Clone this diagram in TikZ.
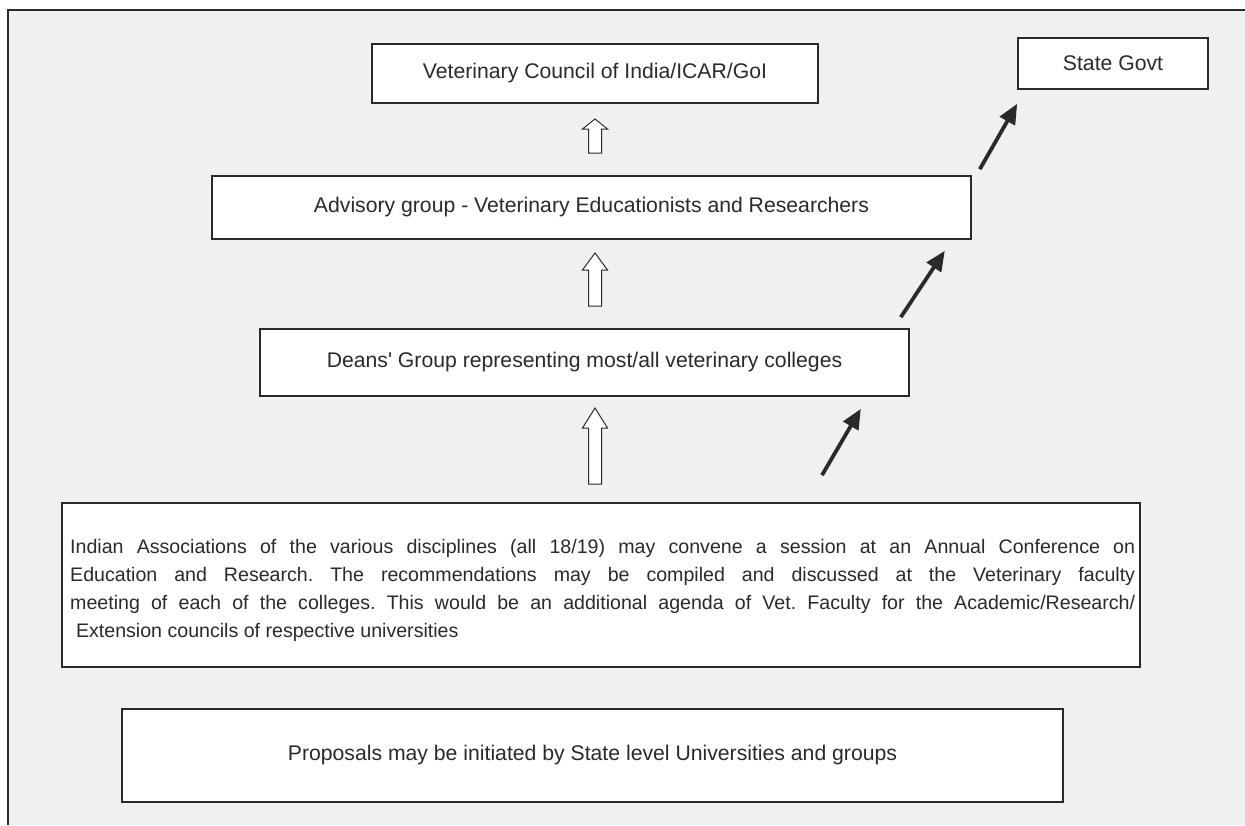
\documentclass[tikz,border=0pt]{standalone}
\usepackage{fontspec}
\setmainfont{Liberation Sans}
\usetikzlibrary{calc,arrows.meta}
\definecolor{bgray}{HTML}{EFF0F2}
\definecolor{ink}{HTML}{2A2A2A}
\newcommand\hollowup[4]{% x, tip y, head base y, bottom y
  \draw[hollowarrow] (#1,#2) -- (#1+12.5,#3) -- (#1+6.5,#3) -- (#1+6.5,#4) -- (#1-6.5,#4) -- (#1-6.5,#3) -- (#1-12.5,#3) -- cycle;}
\begin{document}
\begin{tikzpicture}[x=1pt,y=-1pt,
  box/.style={draw=ink,line width=1.6pt,fill=white,rectangle,inner sep=0pt,text=ink,font=\fontsize{21.2}{24}\selectfont},
  hollowarrow/.style={draw=ink,line width=1pt,fill=white,line join=miter},
  solidarrow/.style={draw=ink,line width=3.8pt,-{Triangle[length=20pt,width=17pt]}}]
\useasboundingbox (0,0) rectangle (1245,825);
\fill[white] (0,0) rectangle (1245,825);
\fill[bgray] (8,10) rectangle (1245,825);
\draw[ink,line width=2pt] (8,825) -- (8,10) -- (1245,10);
\node[box,minimum width=446pt,minimum height=59pt] (vci) at (595,73.5) {Veterinary Council of India/ICAR/GoI};
\node[box,minimum width=190pt,minimum height=51pt] (state) at (1113,63.5) {State Govt};
\node[box,minimum width=759pt,minimum height=63pt] (adv) at (591.5,207.5) {Advisory group - Veterinary Educationists and Researchers};
\node[box,minimum width=649pt,minimum height=67pt] (deans) at (584.5,362.5) {Deans\textquotesingle{} Group representing most/all veterinary colleges};
\node[box,minimum width=1078pt,minimum height=164pt] (ind) at (601,585) {};
\node[anchor=west,inner sep=0pt,text=ink,font=\fontsize{19.6}{28}\selectfont] (indtext) at (70,590)
  {\parbox{1065pt}{\frenchspacing Indian Associations of the various disciplines (all 18/19) may convene a session at an Annual Conference on\linebreak
  Education and Research. The recommendations may be compiled and discussed at the Veterinary faculty\linebreak
  meeting of each of the colleges. This would be an additional agenda of Vet. Faculty for the Academic/Research/\linebreak
  \hspace*{0.3em}Extension councils of respective universities}};
\node[box,minimum width=941pt,minimum height=93pt] (prop) at (592.5,755.5) {Proposals may be initiated by State level Universities and groups};
% hollow arrows
\hollowup{595}{119}{129}{153}
\hollowup{595}{253}{270}{306}
\hollowup{595}{408}{428}{484}
% solid arrows
\coordinate (a1) at ($(ind.north)+(221,-27)$);
\coordinate (a2) at ($(deans.south east)+(-49,12)$);
\draw[solidarrow] (a1) -- (a2);
\coordinate (b1) at ($(deans.north east)+(-9,-11)$);
\coordinate (b2) at ($(adv.south east)+(-27,11)$);
\draw[solidarrow] (b1) -- (b2);
\coordinate (c1) at ($(adv.north east)+(8,-6)$);
\coordinate (c2) at ($(state.south west)+(0,14)$);
\draw[solidarrow] (c1) -- (c2);
\end{tikzpicture}
\end{document}
